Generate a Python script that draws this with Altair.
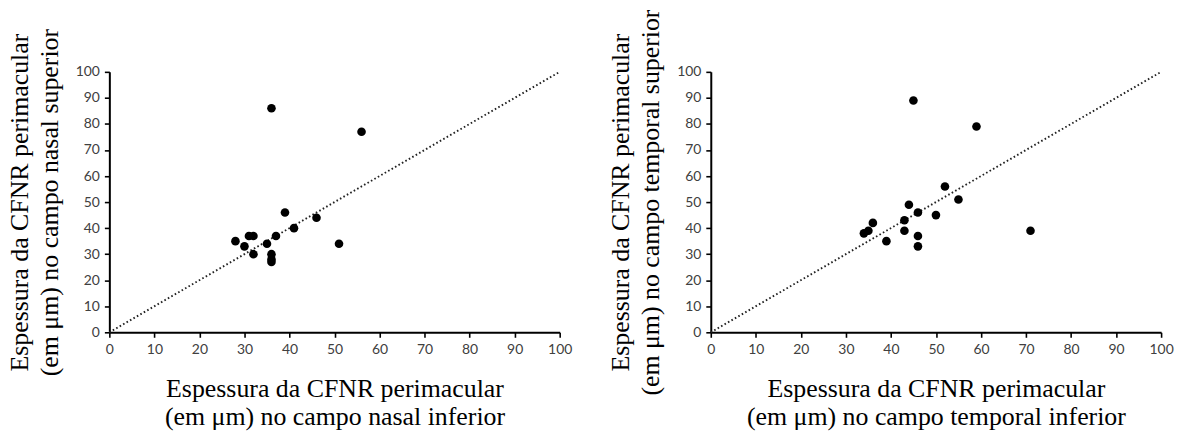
import altair as alt
import pandas as pd

# Left panel: nasal inferior (x) vs nasal superior (y)
nasal_inf = [28, 30, 31, 32, 32, 35, 36, 36, 36, 37, 39, 41, 46, 51, 36, 56]
nasal_sup = [35, 33, 37, 37, 30, 34, 30, 28, 27, 37, 46, 40, 44, 34, 86, 77]

# Right panel: temporal inferior (x) vs temporal superior (y)
temp_inf = [45, 59, 52, 55, 44, 46, 50, 43, 43, 46, 46, 39, 71, 36, 35, 34]
temp_sup = [89, 79, 56, 51, 49, 46, 45, 43, 39, 37, 33, 35, 39, 42, 39, 38]

diag = [0, 100]
ticks = [0, 10, 20, 30, 40, 50, 60, 70, 80, 90, 100]

left_x_title = ["Espessura da CFNR perimacular", "(em μm) no campo nasal inferior"]
left_y_title = ["Espessura da CFNR perimacular", "(em μm) no campo nasal superior"]
right_x_title = ["Espessura da CFNR perimacular", "(em μm) no campo temporal inferior"]
right_y_title = ["Espessura da CFNR perimacular", "(em μm) no campo temporal superior"]


def panel(xv, yv, xtitle, ytitle):
    df = pd.DataFrame({"x": xv, "y": yv})
    dl = pd.DataFrame({"x": diag, "y": diag})
    xs = alt.Scale(domain=[0, 100], nice=False, zero=True)
    ys = alt.Scale(domain=[0, 100], nice=False, zero=True)
    xa = alt.Axis(values=ticks, tickCount=len(ticks), title=xtitle, grid=False,
                  titlePadding=20, titleLineHeight=28)
    ya = alt.Axis(values=ticks, tickCount=len(ticks), title=ytitle, grid=False,
                  titlePadding=13, titleLineHeight=30)
    line = alt.Chart(dl).mark_line(
        strokeDash=[1.6, 2.4], color="#222222", strokeWidth=1.9
    ).encode(
        x=alt.X("x:Q", scale=xs, axis=xa),
        y=alt.Y("y:Q", scale=ys, axis=ya),
    )
    pts = alt.Chart(df).mark_circle(size=75, color="black", opacity=1).encode(
        x=alt.X("x:Q", scale=xs, axis=xa),
        y=alt.Y("y:Q", scale=ys, axis=ya),
    )
    return alt.layer(line, pts).properties(width=453, height=262)


left = panel(nasal_inf, nasal_sup, left_x_title, left_y_title)
right = panel(temp_inf, temp_sup, right_x_title, right_y_title)

chart = alt.hconcat(left, right, spacing=35).configure_view(
    stroke=None
).configure_axis(
    domainColor="black",
    domainWidth=2,
    tickColor="black",
    tickWidth=1.6,
    tickSize=5,
    labelFont="Lato",
    labelFontSize=14,
    labelColor="#404040",
    labelPadding=5,
    labelOverlap=False,
    labelBound=False,
    labelFlush=False,
    titleFont="Liberation Serif",
    titleFontSize=26,
    titleFontWeight="normal",
    titleColor="black",
).properties(padding={"left": 6, "top": 7, "right": 5, "bottom": 0})

chart.save("out.html", embed_options={"renderer": "svg", "actions": False})
